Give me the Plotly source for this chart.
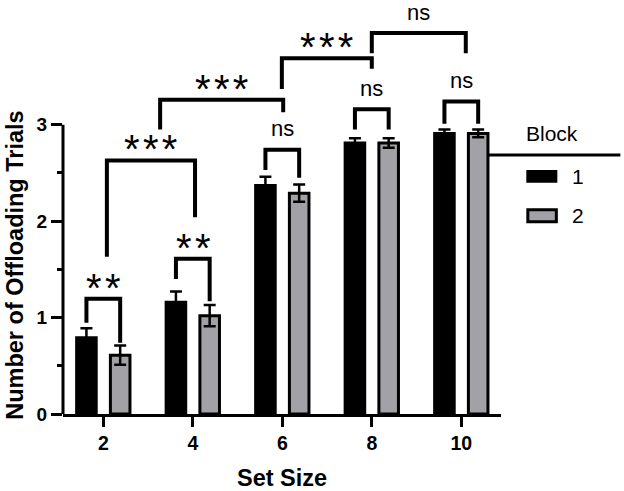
import plotly.graph_objects as go

# ---- data ----
set_sizes = [2, 4, 6, 8, 10]
block1_mean = [0.79, 1.16, 2.37, 2.81, 2.91]
block1_sem = [0.10, 0.11, 0.09, 0.05, 0.04]
block2_mean = [0.61, 1.02, 2.29, 2.81, 2.91]
block2_sem = [0.10, 0.11, 0.09, 0.05, 0.04]
block_names = ["1", "2"]

# within-set comparisons (Block 1 vs Block 2)
within_labels = ["**", "**", "ns", "ns", "ns"]
within_bar_y = [1.195, 1.61, 2.74, 3.16, 3.24]
within_left_end = [0.946, 1.40, 2.53, 2.95, 3.01]
within_right_end = [0.74, 1.17, 2.45, 2.95, 3.01]

# between-set comparisons
between_left_x = [2.08, 3.27, 5.99, 8.0]
between_right_x = [4.05, 6.02, 8.0, 10.1]
between_bar_y = [2.63, 3.26, 3.69, 3.95]
between_left_end = [1.63, 2.95, 3.37, 3.74]
between_right_end = [2.04, 3.13, 3.58, 3.74]
between_labels = ["***", "***", "***", "ns"]

BLACK = "#000000"
GREY = "#A2A2A6"
FONT = "Arial, Liberation Sans, sans-serif"
HALF = 0.377  # half distance between paired bars (x units)

fig = go.Figure()
fig.add_trace(go.Bar(
    x=set_sizes, y=block1_mean, name=block_names[0],
    marker=dict(color=BLACK, line=dict(color=BLACK, width=3)),
    error_y=dict(type="data", array=block1_sem, color=BLACK, thickness=2.5, width=6),
    showlegend=False,
))
fig.add_trace(go.Bar(
    x=set_sizes, y=block2_mean, name=block_names[1],
    marker=dict(color=GREY, line=dict(color=BLACK, width=3)),
    error_y=dict(type="data", array=block2_sem, color=BLACK, thickness=2.5, width=6),
    showlegend=False,
))

shapes = []
annotations = []


def add_bracket(x0, x1, yb, y0e, y1e, lbl):
    shapes.append(dict(
        type="path", xref="x", yref="y",
        path=f"M {x0},{y0e} L {x0},{yb} L {x1},{yb} L {x1},{y1e}",
        line=dict(color=BLACK, width=4), layer="above",
    ))
    is_star = "*" in lbl
    annotations.append(dict(
        x=(x0 + x1) / 2, y=yb, xref="x", yref="y",
        text=("\u200a".join(lbl) if is_star else lbl), showarrow=False,
        xanchor="center", yanchor="middle", yshift=(11 if is_star else 21),
        font=dict(family=FONT, size=(40 if is_star else 22), color=BLACK),
    ))


for i, s in enumerate(set_sizes):
    add_bracket(s - HALF, s + HALF, within_bar_y[i], within_left_end[i],
                within_right_end[i], within_labels[i])
for i in range(len(between_labels)):
    add_bracket(between_left_x[i], between_right_x[i], between_bar_y[i],
                between_left_end[i], between_right_end[i], between_labels[i])

# y-axis line only up to 3
shapes.append(dict(type="line", xref="paper", yref="y", x0=0, x1=0, y0=0, y1=3,
                   line=dict(color=BLACK, width=3)))

# manual legend (pixel -> paper conversions)
PX_L, PX_R, PX_T, PX_B = 63, 500.7, 5, 414.3


def px(xp):
    return (xp - PX_L) / (PX_R - PX_L)


def py(yp):
    return (PX_B - yp) / (PX_B - PX_T)


def label(x, y, text, size, angle=0):
    annotations.append(dict(x=px(x), y=py(y), xref="paper", yref="paper", text=text,
                            showarrow=False, xanchor="center", yanchor="middle",
                            textangle=angle,
                            font=dict(family=FONT, size=size, color=BLACK)))


shapes.append(dict(type="line", xref="paper", yref="paper", x0=px(488), x1=px(620),
                   y0=py(155), y1=py(155), line=dict(color=BLACK, width=3)))
shapes.append(dict(type="rect", xref="paper", yref="paper", x0=px(527), x1=px(556),
                   y0=py(182), y1=py(171), fillcolor=BLACK, line=dict(color=BLACK, width=2)))
shapes.append(dict(type="rect", xref="paper", yref="paper", x0=px(527.5), x1=px(556),
                   y0=py(222), y1=py(210), fillcolor=GREY, line=dict(color=BLACK, width=3)))
label(552, 134, "Block", 21)
label(578, 177, block_names[0], 21)
label(578, 216, block_names[1], 21)

# axis titles
label(15, 265, "<b>Number of Offloading Trials</b>", 23.5, angle=-90)
label(281.8, 478, "<b>Set Size</b>", 23.5)

fig.update_layout(
    width=624, height=491,
    margin=dict(l=PX_L, r=624 - PX_R, t=PX_T, b=491 - PX_B),
    plot_bgcolor="white", paper_bgcolor="white",
    barmode="group", bargap=0.246, bargroupgap=0.42,
    shapes=shapes, annotations=annotations,
    xaxis=dict(
        range=[2 - 40.3 / 44.75, 10 + 39.7 / 44.75],
        tickvals=set_sizes, ticktext=[f"<b>{s}</b>" for s in set_sizes],
        showline=True, linecolor=BLACK, linewidth=3,
        ticks="outside", ticklen=10, tickwidth=3, tickcolor=BLACK,
        showgrid=False, zeroline=False,
        tickfont=dict(family=FONT, size=19.5, color=BLACK),
    ),
    yaxis=dict(
        range=[0, (PX_B - PX_T) / 96.5],
        tickvals=[0, 1, 2, 3], ticktext=["<b>0</b>", "<b>1</b>", "<b>2</b>", "<b>3</b>"],
        showline=False, ticks="outside", ticklen=11, tickwidth=3, tickcolor=BLACK,
        minor=dict(tickvals=[0.5, 1.5, 2.5], ticks="outside", ticklen=5, tickwidth=3,
                   tickcolor=BLACK, showgrid=False),
        showgrid=False, zeroline=False,
        tickfont=dict(family=FONT, size=19, color=BLACK),
    ),
)

fig.write_html("out.html", config={"displayModeBar": False},
               post_script="document.body.style.margin='0';")
